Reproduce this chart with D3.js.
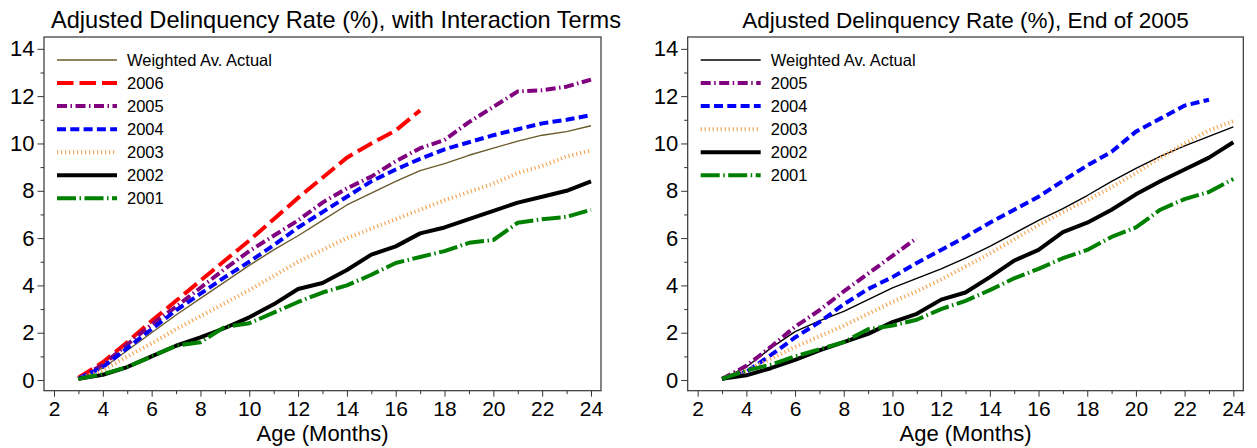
<!DOCTYPE html>
<html>
<head>
<meta charset="utf-8">
<script src="https://cdn.jsdelivr.net/npm/d3@7"></script>
<style>
  body { margin: 0; background: #fff; }
  svg text { font-family: "Liberation Sans", Arial, sans-serif; fill: #000; }
</style>
</head>
<body>
<div id="chart"></div>
<script>
// --- data (month of age -> adjusted delinquency rate, %) ---
const months = [3, 4, 5, 6, 7, 8, 9, 10, 11, 12, 13, 14, 15, 16, 17, 18, 19, 20, 21, 22, 23, 24];
const xTicks = [2, 4, 6, 8, 10, 12, 14, 16, 18, 20, 22, 24];
const xMinorTicks = [3, 5, 7, 9, 11, 13, 15, 17, 19, 21, 23];
const yTicks = [0, 2, 4, 6, 8, 10, 12, 14];
const yMinorTicks = [1, 3, 5, 7, 9, 11, 13];

// left panel: with interaction terms
const leftWeighted = [0.05, 0.5, 1.25, 2.0, 2.75, 3.45, 4.15, 4.85, 5.5, 6.1, 6.75, 7.4, 7.9, 8.4, 8.85, 9.15, 9.5, 9.8, 10.1, 10.35, 10.5, 10.75];
const left2006 = [0.1, 0.75, 1.6, 2.5, 3.35, 4.2, 5.05, 5.9, 6.8, 7.7, 8.55, 9.4, 10.0, 10.55, 11.4];
const left2005 = [0.05, 0.65, 1.5, 2.35, 3.1, 3.9, 4.7, 5.45, 6.1, 6.75, 7.5, 8.1, 8.6, 9.25, 9.8, 10.15, 10.9, 11.55, 12.2, 12.25, 12.4, 12.7];
const left2004 = [0.05, 0.55, 1.35, 2.15, 2.95, 3.65, 4.35, 5.0, 5.7, 6.45, 7.1, 7.75, 8.4, 8.9, 9.35, 9.75, 10.05, 10.35, 10.6, 10.85, 11.0, 11.2];
const left2003 = [0.05, 0.4, 1.0, 1.55, 2.15, 2.7, 3.25, 3.8, 4.4, 5.0, 5.5, 6.0, 6.4, 6.8, 7.2, 7.6, 7.95, 8.3, 8.75, 9.05, 9.45, 9.7];
const left2002 = [0.05, 0.22, 0.55, 1.0, 1.45, 1.8, 2.2, 2.65, 3.2, 3.85, 4.1, 4.65, 5.3, 5.65, 6.2, 6.45, 6.8, 7.15, 7.5, 7.75, 8.0, 8.4];
const left2001 = [0.05, 0.25, 0.55, 1.0, 1.45, 1.6, 2.25, 2.4, 2.85, 3.3, 3.7, 4.0, 4.45, 4.95, 5.2, 5.45, 5.8, 5.92, 6.65, 6.8, 6.9, 7.2];

// right panel: end of 2005
const rightWeighted = [0.05, 0.55, 1.35, 2.05, 2.5, 2.9, 3.4, 3.9, 4.3, 4.7, 5.15, 5.65, 6.2, 6.75, 7.25, 7.8, 8.4, 8.95, 9.45, 9.9, 10.3, 10.7];
const right2005 = [0.05, 0.6, 1.4, 2.25, 2.95, 3.75, 4.5, 5.25, 6.0];
const right2004 = [0.05, 0.35, 1.05, 1.8, 2.45, 3.2, 3.85, 4.35, 4.95, 5.5, 6.05, 6.65, 7.2, 7.75, 8.42, 9.07, 9.65, 10.5, 11.05, 11.6, 11.85];
const right2003 = [0.05, 0.4, 0.9, 1.4, 1.85, 2.3, 2.8, 3.3, 3.75, 4.25, 4.8, 5.35, 5.95, 6.55, 7.1, 7.6, 8.15, 8.75, 9.4, 10.0, 10.55, 10.95];
const right2002 = [0.05, 0.2, 0.5, 0.85, 1.25, 1.6, 1.95, 2.45, 2.8, 3.4, 3.7, 4.35, 5.05, 5.5, 6.25, 6.65, 7.2, 7.85, 8.4, 8.9, 9.4, 10.05];
const right2001 = [0.05, 0.4, 0.65, 1.0, 1.3, 1.6, 2.15, 2.3, 2.55, 3.0, 3.35, 3.8, 4.3, 4.7, 5.15, 5.5, 6.05, 6.45, 7.2, 7.65, 7.95, 8.5];

// line styles per series label
const styles = {
  "Weighted Av. Actual": { color: "#6b5a2b", width: 1.4, dash: null },
  "2006": { color: "#ff0000", width: 4, dash: "16.5,6" },
  "2005": { color: "#800080", width: 4, dash: "10,3.5,1.5,3.5" },
  "2004": { color: "#0000ff", width: 4, dash: "9,4.3" },
  "2003": { color: "#f5a85c", width: 4, dash: "1.2,2.8" },
  "2002": { color: "#000000", width: 4, dash: null },
  "2001": { color: "#008000", width: 4, dash: "19,3.5,1.5,3.5" }
};

const width = 1257, height = 448;
const svg = d3.select("#chart")
  .append("svg")
  .attr("width", width)
  .attr("height", height)
  .attr("viewBox", `0 0 ${width} ${height}`);

function drawPanel(cfg) {
  const g = svg.append("g");

  const xScale = d3.scaleLinear().domain([1.59, 24.41]).range([cfg.left, cfg.right]);
  const yScale = d3.scaleLinear().domain([-0.45, 14.5]).range([390.7, 37]);

  // axes: major ticks with labels, minor ticks without
  g.append("g")
    .attr("class", "x-axis")
    .attr("transform", `translate(0, ${yScale.range()[0]})`)
    .call(d3.axisBottom(xScale).tickValues(xTicks).tickSize(6).tickPadding(4).tickFormat(d3.format("d")));
  g.append("g")
    .attr("transform", `translate(0, ${yScale.range()[0]})`)
    .call(d3.axisBottom(xScale).tickValues(xMinorTicks).tickSize(3.5).tickFormat(""));
  g.append("g")
    .attr("class", "y-axis")
    .attr("transform", `translate(${cfg.left}, 0)`)
    .call(d3.axisLeft(yScale).tickValues(yTicks).tickSize(6.5).tickPadding(3).tickFormat(d3.format("d")));
  g.append("g")
    .attr("transform", `translate(${cfg.left}, 0)`)
    .call(d3.axisLeft(yScale).tickValues(yMinorTicks).tickSize(3.5).tickFormat(""));

  g.selectAll(".domain").remove();
  g.selectAll(".tick line").attr("stroke", "#333").attr("stroke-width", 1);
  g.selectAll(".x-axis .tick text").style("font-size", "21px").attr("fill", "#000");
  g.selectAll(".y-axis .tick text").style("font-size", "22px").attr("fill", "#000");

  // frame
  g.append("rect")
    .attr("x", cfg.left)
    .attr("y", yScale.range()[1])
    .attr("width", cfg.right - cfg.left)
    .attr("height", yScale.range()[0] - yScale.range()[1])
    .attr("fill", "none")
    .attr("stroke", "#333")
    .attr("stroke-width", 1.2);

  // lines
  const line = d3.line()
    .x((d, i) => xScale(months[i]))
    .y(d => yScale(d));

  cfg.series.forEach(s => {
    const st = styles[s.name];
    g.append("path")
      .datum(s.values)
      .attr("d", line)
      .attr("fill", "none")
      .attr("stroke", s.color || st.color)
      .attr("stroke-width", st.width)
      .attr("stroke-dasharray", st.dash)
      .attr("stroke-linejoin", "round");
  });

  // legend
  const legend = g.append("g")
    .attr("transform", `translate(${cfg.left + 13}, 60)`);
  const row = legend.selectAll(".legend-item")
    .data(cfg.series)
    .enter()
    .append("g")
    .attr("class", "legend-item")
    .attr("transform", (d, i) => `translate(0, ${i * 23.05})`);
  row.append("line")
    .attr("x1", 0).attr("x2", 60)
    .attr("y1", 0).attr("y2", 0)
    .attr("stroke", d => d.color || styles[d.name].color)
    .attr("stroke-width", d => styles[d.name].width)
    .attr("stroke-dasharray", d => styles[d.name].dash);
  row.append("text")
    .attr("x", 70)
    .attr("y", 6)
    .style("font-size", "16.5px")
    .text(d => d.name);

  // title
  g.append("text")
    .attr("x", cfg.titleX)
    .attr("y", 28)
    .style("font-size", cfg.titleSize)
    .style("text-anchor", "middle")
    .text(cfg.title);

  // x axis title
  g.append("text")
    .attr("x", (cfg.left + cfg.right) / 2)
    .attr("y", 441)
    .style("font-size", "22px")
    .style("text-anchor", "middle")
    .text("Age (Months)");
}

drawPanel({
  left: 44,
  right: 601,
  title: "Adjusted Delinquency Rate (%), with Interaction Terms",
  titleX: 336,
  titleSize: "23.6px",
  series: [
    { name: "Weighted Av. Actual", values: leftWeighted },
    { name: "2006", values: left2006 },
    { name: "2005", values: left2005 },
    { name: "2004", values: left2004 },
    { name: "2003", values: left2003 },
    { name: "2002", values: left2002 },
    { name: "2001", values: left2001 }
  ]
});

drawPanel({
  left: 687.7,
  right: 1243.3,
  title: "Adjusted Delinquency Rate (%), End of 2005",
  titleX: 965.5,
  titleSize: "22.5px",
  series: [
    { name: "Weighted Av. Actual", values: rightWeighted, color: "#000000" },
    { name: "2005", values: right2005 },
    { name: "2004", values: right2004 },
    { name: "2003", values: right2003 },
    { name: "2002", values: right2002 },
    { name: "2001", values: right2001 }
  ]
});
</script>
</body>
</html>
